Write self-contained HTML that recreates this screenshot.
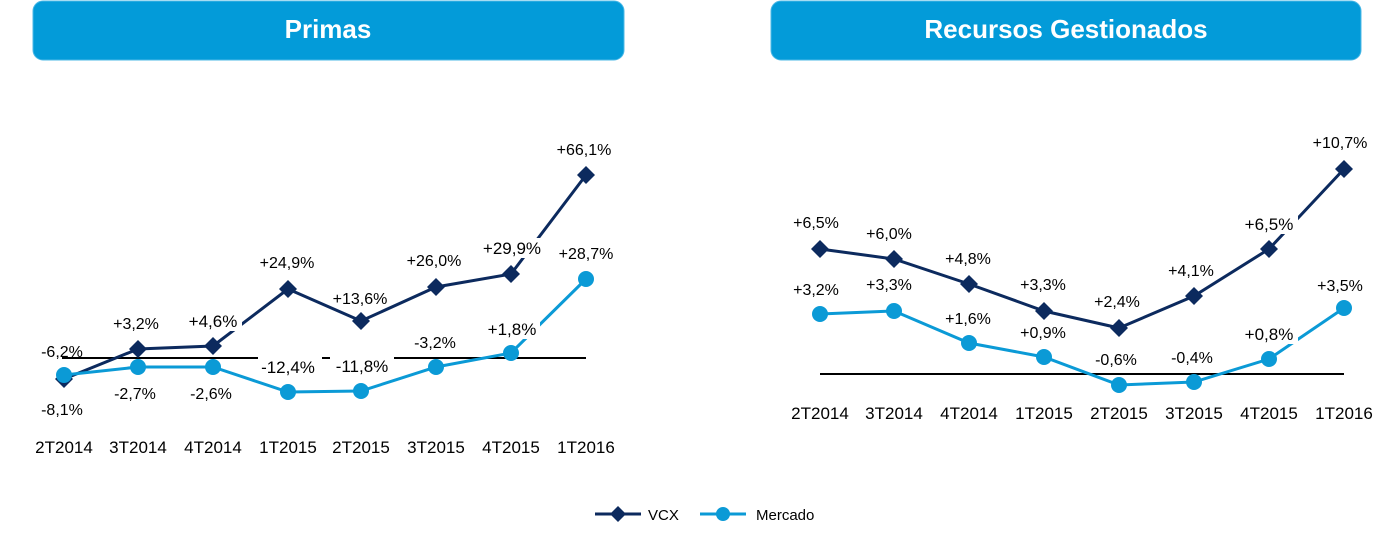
<!DOCTYPE html>
<html><head><meta charset="utf-8"><style>
body{margin:0;background:#fff}
svg{display:block}
text{font-family:"Liberation Sans",sans-serif}
.l{font-size:16px;fill:#000;text-anchor:middle}
.c{font-size:17px;fill:#000;text-anchor:middle}
</style></head><body>
<svg width="1395" height="539" viewBox="0 0 1395 539">
<rect x="33" y="1" width="591" height="59" rx="10" fill="#039bd9" stroke="#4cb8e6" stroke-width="1"/>
<text x="328" y="38" font-size="26" font-weight="bold" fill="#fff" text-anchor="middle">Primas</text>
<rect x="771" y="1" width="590" height="59" rx="10" fill="#039bd9" stroke="#4cb8e6" stroke-width="1"/>
<text x="1066" y="38" font-size="26" font-weight="bold" fill="#fff" text-anchor="middle">Recursos Gestionados</text>

<!-- LEFT -->
<line x1="62" y1="358" x2="586" y2="358" stroke="#000" stroke-width="2"/>
<polyline points="64,379 138,349 213,346 288,289 361,321 436,287 511,274 586,175" fill="none" stroke="#0c2a5e" stroke-width="3"/>
<polyline points="64,375 138,367 213,367 288,392 361,391 436,367 511,353 586,279" fill="none" stroke="#0b9ad6" stroke-width="3"/>
<g fill="#0c2a5e">
<path d="M64,370l9,9l-9,9l-9,-9z"/><path d="M138,340l9,9l-9,9l-9,-9z"/><path d="M213,337l9,9l-9,9l-9,-9z"/><path d="M288,280l9,9l-9,9l-9,-9z"/><path d="M361,312l9,9l-9,9l-9,-9z"/><path d="M436,278l9,9l-9,9l-9,-9z"/><path d="M511,265l9,9l-9,9l-9,-9z"/><path d="M586,166l9,9l-9,9l-9,-9z"/>
</g>
<g fill="#0b9ad6">
<circle cx="64" cy="375" r="8"/><circle cx="138" cy="367" r="8"/><circle cx="213" cy="367" r="8"/><circle cx="288" cy="392" r="8"/><circle cx="361" cy="391" r="8"/><circle cx="436" cy="367" r="8"/><circle cx="511" cy="353" r="8"/><circle cx="586" cy="279" r="8"/>
</g>
<g fill="#fff">
<rect x="258" y="352" width="64" height="16"/>
<rect x="330" y="352" width="64" height="16"/>
<rect x="482" y="238" width="60" height="20"/>
<rect x="186" y="311" width="56" height="20"/>
<rect x="484" y="319" width="56" height="20"/>
</g>
<g class="l">
<text x="584" y="155">+66,1%</text>
<text x="586" y="259">+28,7%</text>
<text x="287" y="268">+24,9%</text>
<text x="434" y="266">+26,0%</text>
<text x="512" y="254" font-size="17">+29,9%</text>
<text x="360" y="304">+13,6%</text>
<text x="136" y="329">+3,2%</text>
<text x="213" y="327" font-size="17">+4,6%</text>
<text x="62" y="357">-6,2%</text>
<text x="435" y="348">-3,2%</text>
<text x="512" y="335" font-size="17">+1,8%</text>
<text x="288" y="373" font-size="17">-12,4%</text>
<text x="362" y="372" font-size="17">-11,8%</text>
<text x="135" y="399">-2,7%</text>
<text x="211" y="399">-2,6%</text>
<text x="62" y="415">-8,1%</text>
</g>
<g class="c">
<text x="64" y="453">2T2014</text><text x="138" y="453">3T2014</text><text x="213" y="453">4T2014</text><text x="288" y="453">1T2015</text><text x="361" y="453">2T2015</text><text x="436" y="453">3T2015</text><text x="511" y="453">4T2015</text><text x="586" y="453">1T2016</text>
</g>

<!-- RIGHT -->
<line x1="820" y1="374" x2="1344" y2="374" stroke="#000" stroke-width="2"/>
<polyline points="820,249 894,259 969,284 1044,311 1119,328 1194,296 1269,249 1344,169" fill="none" stroke="#0c2a5e" stroke-width="3"/>
<polyline points="820,314 894,311 969,343 1044,357 1119,385 1194,382 1269,359 1344,308" fill="none" stroke="#0b9ad6" stroke-width="3"/>
<g fill="#0c2a5e">
<path d="M820,240l9,9l-9,9l-9,-9z"/><path d="M894,250l9,9l-9,9l-9,-9z"/><path d="M969,275l9,9l-9,9l-9,-9z"/><path d="M1044,302l9,9l-9,9l-9,-9z"/><path d="M1119,319l9,9l-9,9l-9,-9z"/><path d="M1194,287l9,9l-9,9l-9,-9z"/><path d="M1269,240l9,9l-9,9l-9,-9z"/><path d="M1344,160l9,9l-9,9l-9,-9z"/>
</g>
<g fill="#0b9ad6">
<circle cx="820" cy="314" r="8"/><circle cx="894" cy="311" r="8"/><circle cx="969" cy="343" r="8"/><circle cx="1044" cy="357" r="8"/><circle cx="1119" cy="385" r="8"/><circle cx="1194" cy="382" r="8"/><circle cx="1269" cy="359" r="8"/><circle cx="1344" cy="308" r="8"/>
</g>
<g fill="#fff">
<rect x="1242" y="214" width="56" height="20"/>
<rect x="1242" y="324" width="56" height="20"/>
</g>
<g class="l">
<text x="1340" y="148">+10,7%</text>
<text x="1269" y="230" font-size="17">+6,5%</text>
<text x="816" y="228">+6,5%</text>
<text x="889" y="239">+6,0%</text>
<text x="968" y="264">+4,8%</text>
<text x="1043" y="290">+3,3%</text>
<text x="1117" y="307">+2,4%</text>
<text x="1191" y="276">+4,1%</text>
<text x="816" y="295">+3,2%</text>
<text x="889" y="290">+3,3%</text>
<text x="968" y="324">+1,6%</text>
<text x="1043" y="338">+0,9%</text>
<text x="1116" y="365">-0,6%</text>
<text x="1192" y="363">-0,4%</text>
<text x="1269" y="340" font-size="17">+0,8%</text>
<text x="1340" y="291">+3,5%</text>
</g>
<g class="c">
<text x="820" y="419">2T2014</text><text x="894" y="419">3T2014</text><text x="969" y="419">4T2014</text><text x="1044" y="419">1T2015</text><text x="1119" y="419">2T2015</text><text x="1194" y="419">3T2015</text><text x="1269" y="419">4T2015</text><text x="1344" y="419">1T2016</text>
</g>

<!-- legend -->
<line x1="595" y1="514" x2="641" y2="514" stroke="#0c2a5e" stroke-width="3"/>
<path d="M618,506l8,8l-8,8l-8,-8z" fill="#0c2a5e"/>
<text x="648" y="520" font-size="15" fill="#000">VCX</text>
<line x1="700" y1="514" x2="746" y2="514" stroke="#0b9ad6" stroke-width="3"/>
<circle cx="723" cy="514" r="7" fill="#0b9ad6"/>
<text x="756" y="520" font-size="15" fill="#000">Mercado</text>
</svg>
</body></html>
